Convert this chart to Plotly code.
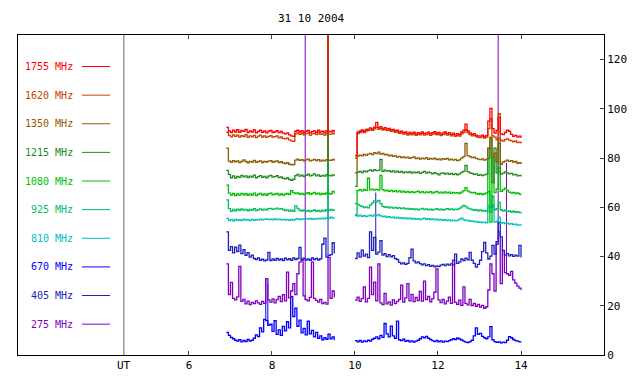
import plotly.graph_objects as go

# ---------------- data ----------------
title_text = "31 10 2004"
x_ticks = [6, 8, 10, 12, 14]
y_ticks = [0, 20, 40, 60, 80, 100, 120]
ut_label = "UT"
ut_hour = 4.43

seg_a_start, seg_b_start, step = 6.9, 10.0, 0.05

freq_labels = ["1755 MHz", "1620 MHz", "1350 MHz", "1215 MHz", "1080 MHz",
               "925 MHz", "810 MHz", "670 MHz", "405 MHz", "275 MHz"]
freq_colors = ["#ff0000", "#c84000", "#8c5c00", "#228b22", "#00c000",
               "#00c060", "#00c0c0", "#0000ff", "#2020c0", "#8000c0"]

f1755_a = [92.5, 91.0, 90.4, 91.3, 90.6, 91.5, 90.5, 91.2, 90.9, 91.6,
           90.3, 91.0, 90.6, 91.4, 90.2, 90.8, 91.3, 90.5, 91.0, 90.2,
           90.9, 91.2, 90.4, 90.7, 91.1, 90.3, 90.8, 90.1, 89.8, 90.2,
           89.4, 89.0, 88.8, 90.9, 91.3, 90.6, 91.1, 90.4, 90.9, 91.2,
           90.3, 90.8, 91.0, 90.5, 91.3, 90.6, 90.9, 90.4, 91.1, 90.8,
           90.7, 91.2, 90.5]
f1755_b = [81.0, 90.5, 91.0, 91.4, 90.9, 91.6, 91.8, 92.3, 91.9, 92.6,
           94.5, 92.3, 92.8, 92.0, 92.4, 91.8, 92.1, 91.5, 91.7, 91.1,
           91.3, 90.6, 90.9, 90.3, 90.6, 89.9, 90.4, 90.0, 90.5, 89.8,
           90.3, 90.0, 90.6, 89.9, 90.2, 90.5, 89.8, 90.3, 90.7, 90.0,
           90.4, 89.7, 90.2, 90.6, 89.9, 90.3, 89.6, 90.1, 89.4, 89.9,
           89.5, 90.6, 91.3, 93.8, 91.0, 90.2, 89.6, 89.9, 89.3, 89.0,
           88.9, 89.3, 88.7, 89.1, 95.0, 100.2, 92.0, 90.1, 91.2, 96.5,
           89.8, 89.5, 90.4, 91.3, 90.9, 89.6, 88.8, 89.2, 88.5, 88.9,
           88.2]

f1620_a = [90.5, 89.2, 88.6, 89.4, 88.8, 89.3, 88.5, 89.1, 88.7, 89.5,
           88.4, 89.0, 88.6, 89.2, 88.3, 88.9, 89.3, 88.5, 89.0, 88.4,
           88.8, 89.1, 88.5, 88.7, 89.0, 88.2, 88.6, 88.0, 87.8, 88.1,
           87.4, 87.0, 86.8, 89.8, 90.2, 89.6, 90.0, 89.4, 89.9, 90.1,
           89.3, 89.8, 90.0, 89.5, 90.2, 89.6, 89.8, 89.3, 90.0, 89.7,
           89.7, 90.1, 89.5]
f1620_b = [80.0, 89.9, 90.4, 90.8, 90.3, 91.0, 91.2, 91.6, 91.3, 91.9,
           92.5, 91.7, 92.1, 91.4, 91.8, 91.2, 91.4, 90.9, 91.0, 90.5,
           90.6, 90.0, 90.2, 89.7, 89.9, 89.3, 89.7, 89.4, 89.8, 89.2,
           89.6, 89.4, 89.9, 89.3, 89.5, 89.8, 89.2, 89.6, 90.0, 89.4,
           89.7, 89.1, 89.5, 89.9, 89.3, 89.6, 89.0, 89.4, 88.8, 89.2,
           88.9, 89.8, 90.3, 91.5, 90.2, 89.5, 89.0, 89.2, 88.7, 88.4,
           88.3, 88.6, 88.1, 88.5, 92.0, 96.0, 89.0, 88.5, 87.4, 98.0,
           87.2, 86.9, 87.5, 87.8, 87.3, 87.0, 86.6, 87.0, 86.3, 86.5,
           85.9]

f1350_a = [84.0, 78.8, 78.3, 79.0, 78.5, 78.9, 78.2, 78.7, 79.3, 78.6,
           78.1, 78.7, 78.4, 79.1, 78.3, 78.6, 78.9, 78.2, 78.7, 78.4,
           78.8, 79.0, 78.3, 78.6, 78.9, 78.2, 78.5, 78.0, 77.8, 78.1,
           77.5, 77.2, 77.4, 79.2, 79.6, 79.1, 79.4, 78.9, 79.3, 79.6,
           78.9, 79.2, 79.5, 79.0, 79.4, 78.8, 79.2, 78.9, 79.4, 79.2,
           79.1, 79.5, 78.9]
f1350_b = [74.0, 80.8, 81.2, 80.9, 81.5, 81.1, 81.6, 81.9, 81.4, 82.2,
           81.8, 82.4, 81.6, 81.9, 81.3, 81.5, 80.9, 81.2, 80.7, 80.9,
           80.4, 80.7, 80.2, 80.5, 80.1, 80.4, 79.9, 80.2, 80.5, 79.8,
           80.1, 79.6, 80.0, 79.7, 80.2, 79.5, 79.9, 79.6, 80.0, 79.4,
           79.7, 79.3, 79.8, 79.5, 79.9, 79.3, 79.6, 79.2, 79.5, 79.0,
           79.3, 80.0, 80.6, 86.0, 81.0, 80.6, 80.2, 80.4, 79.9, 79.6,
           79.4, 79.7, 79.2, 79.5, 84.0, 88.5, 80.5, 82.0, 78.5, 88.0,
           77.5, 78.4, 78.8, 79.2, 78.7, 79.0, 78.4, 78.6, 77.9, 78.1,
           77.6]

f1215_a = [75.0, 73.4, 72.0, 72.8, 71.9, 72.6, 72.2, 73.0, 72.4, 72.8,
           72.1, 72.7, 72.3, 73.1, 72.0, 72.5, 72.9, 72.2, 72.6, 72.0,
           72.7, 73.0, 72.3, 72.5, 72.9, 72.1, 72.4, 71.8, 71.6, 71.9,
           71.3, 71.0, 71.4, 72.9, 73.4, 72.7, 73.1, 72.5, 73.0, 73.5,
           72.8, 73.1, 73.6, 72.8, 73.2, 72.6, 73.0, 72.7, 73.3, 73.0,
           72.8, 73.2, 72.6]
f1215_b = [68.5, 74.2, 74.6, 74.1, 74.8, 74.4, 74.9, 75.2, 74.7, 75.3,
           74.9, 75.0, 79.5, 74.6, 75.1, 74.7, 74.9, 74.4, 74.8, 74.3,
           74.7, 74.2, 74.6, 74.0, 74.4, 74.1, 74.5, 73.9, 74.3, 74.0,
           74.4, 73.8, 74.2, 74.6, 73.9, 74.3, 74.0, 73.6, 74.1, 73.7,
           73.2, 73.8, 74.0, 73.5, 73.9, 73.4, 73.8, 73.3, 73.7, 73.2,
           73.6, 74.2, 74.6, 77.0, 74.5, 74.0, 73.8, 73.4, 73.6, 73.0,
           73.3, 72.9, 73.2, 73.5, 80.0, 88.0, 70.0, 84.0, 74.0, 86.0,
           73.5, 73.9, 74.4, 74.0, 73.6, 73.8, 73.2, 73.4, 72.8, 73.0,
           72.5]

f1080_a = [69.0, 65.8, 65.0, 65.6, 64.8, 65.4, 65.0, 65.7, 65.1, 65.5,
           64.9, 65.4, 65.0, 65.8, 64.8, 65.3, 65.6, 65.0, 65.4, 64.9,
           65.5, 65.8, 65.1, 65.3, 65.7, 65.0, 65.4, 65.0, 65.3, 65.6,
           65.2, 66.8, 66.0, 65.6, 65.9, 65.3, 65.7, 65.2, 65.6, 66.0,
           65.3, 65.6, 66.1, 65.4, 65.8, 65.2, 65.6, 65.3, 65.9, 65.6,
           65.4, 66.5, 65.6]
f1080_b = [61.5, 66.8, 67.2, 66.7, 67.3, 66.9, 71.8, 67.1, 67.4, 67.0,
           67.3, 67.0, 73.0, 67.2, 66.7, 67.0, 66.5, 66.9, 66.4, 66.8,
           66.3, 66.7, 66.2, 66.6, 66.1, 66.5, 66.0, 66.4, 66.0, 66.3,
           66.6, 66.0, 66.4, 65.9, 66.3, 66.0, 66.4, 65.8, 66.2, 66.5,
           65.9, 66.2, 65.8, 66.3, 65.9, 66.2, 65.7, 66.1, 65.8, 66.0,
           65.6, 66.2, 66.8, 68.0, 66.7, 66.2, 65.9, 66.1, 65.6, 65.3,
           65.6, 65.2, 65.5, 65.9, 84.0, 54.0, 80.0, 66.0, 67.5, 76.0,
           66.5, 67.2, 67.8, 66.9, 66.2, 65.8, 66.1, 65.6, 65.9, 65.3,
           65.4]

f925_a = [63.0, 59.5, 58.4, 59.1, 58.6, 59.3, 58.8, 59.4, 58.9, 59.2,
          58.6, 59.1, 58.8, 59.5, 58.7, 59.0, 59.4, 58.9, 59.3, 59.0,
          59.5, 59.6, 59.2, 59.4, 59.7, 59.3, 59.5, 59.1, 58.7, 58.9,
          58.5, 58.8, 58.4, 60.6, 59.6, 58.8, 58.5, 58.9, 58.4, 58.7,
          58.3, 58.6, 58.9, 58.4, 58.7, 58.3, 58.8, 58.5, 59.0, 58.8,
          59.2, 58.8, 59.1]
f925_b = [57.0, 61.2, 60.7, 60.4, 59.9, 60.2, 59.8, 61.0, 61.8, 62.6,
          62.2, 62.8, 61.5, 60.4, 60.0, 60.3, 59.8, 60.1, 59.7, 60.0,
          59.6, 59.9, 59.5, 59.8, 59.3, 59.6, 59.2, 59.5, 59.1, 59.4,
          59.0, 59.3, 59.6, 59.1, 59.4, 59.0, 59.3, 58.9, 59.2, 59.5,
          59.0, 59.3, 58.9, 59.2, 59.5, 59.1, 59.4, 59.0, 59.3, 59.1,
          59.6, 60.2, 60.8, 60.3, 59.7, 59.4, 59.1, 58.8, 59.0, 58.6,
          58.9, 58.5, 58.7, 58.4, 66.5, 60.0, 64.5, 59.0, 59.5, 62.0,
          59.0, 58.5, 58.8, 58.3, 58.5, 58.1, 58.4, 58.0, 58.2, 57.9,
          58.1]

f810_a = [55.5, 54.6, 55.0, 54.5, 55.1, 54.7, 55.0, 54.6, 55.2, 54.8,
          55.0, 54.6, 55.1, 54.7, 55.0, 54.8, 55.2, 54.9, 55.1, 55.3,
          55.0, 55.2, 54.9, 55.3, 55.0, 55.2, 54.9, 55.1, 54.8, 55.0,
          54.7, 55.1, 54.8, 55.2, 55.4, 55.0, 55.3, 55.1, 55.4, 55.2,
          55.5, 55.1, 55.4, 55.2, 55.5, 55.3, 55.6, 55.3, 55.7, 55.5,
          56.0, 55.6, 55.8]
f810_b = [56.6, 56.4, 56.8, 56.3, 56.6, 56.2, 56.5, 56.8, 56.4, 56.9,
          56.6, 57.0, 56.5, 56.2, 56.4, 55.9, 56.2, 55.8, 56.0, 55.6,
          55.9, 55.5, 55.8, 55.4, 55.7, 55.3, 55.6, 55.2, 55.5, 55.1,
          55.4, 55.0, 55.3, 55.6, 55.1, 55.4, 55.0, 55.3, 54.9, 55.2,
          54.8, 55.1, 54.7, 55.0, 54.6, 54.9, 54.5, 54.8, 54.5, 54.7,
          55.2, 55.6, 55.0, 54.6, 54.8, 54.3, 54.5, 54.1, 54.3, 53.9,
          54.1, 53.8, 54.0, 53.7, 60.5, 58.0, 61.0, 54.0, 54.3, 56.0,
          53.6, 53.8, 53.4, 53.6, 53.2, 53.4, 53.0, 53.2, 52.8, 52.9,
          52.5]

f670_a = [9.2, 8.0, 7.1, 6.6, 6.0, 5.6, 6.2, 5.3, 5.9, 5.4,
          6.3, 5.6, 6.0, 6.8, 8.2, 7.5, 11.0, 9.4, 14.5, 14.0,
          12.0, 12.5, 9.6, 14.0, 8.4, 10.2, 8.0, 11.6, 9.8, 13.5,
          11.0, 23.7, 15.6, 19.0, 11.6, 14.2, 9.0, 10.8, 8.2, 13.8,
          8.6, 10.0, 7.4, 9.2, 6.8, 7.8, 6.2, 7.0, 6.4, 8.5,
          6.6, 7.4, 6.0]
f670_b = [5.8, 5.3, 5.9, 5.2, 5.7, 5.4, 6.0, 5.6, 6.4, 6.8,
          7.4, 6.6, 8.0, 7.2, 12.8, 8.6, 7.4, 11.7, 7.8, 6.8,
          13.8, 6.2, 5.8, 6.4, 5.5, 5.9, 5.3, 5.7, 5.2, 5.6,
          6.0, 6.6, 7.4, 7.0, 7.6, 6.8, 6.3, 5.8, 5.4, 5.9,
          5.3, 5.7, 5.2, 5.6, 5.4, 5.8, 6.2, 6.6, 6.3, 6.9,
          6.5, 6.1, 5.6, 5.2, 5.0, 5.4, 6.0, 7.8, 11.0, 8.4,
          8.8, 7.6, 7.0, 6.6, 7.4, 11.5, 6.2, 5.4, 5.1, 5.3,
          4.9, 5.2, 5.0, 6.0, 7.5, 7.0, 6.3, 5.8, 5.6, 5.3,
          5.2]

f405_a = [50.0, 42.5, 44.0, 41.5, 43.8, 42.0, 44.6, 41.2, 42.8, 40.5,
          41.6, 39.8, 40.6, 39.2, 38.8, 39.4, 38.5, 38.9, 38.2, 38.6,
          41.7, 38.4, 39.0, 38.5, 39.2, 38.6, 39.0, 38.4, 39.3, 38.7,
          39.1, 38.5, 39.4, 38.8, 39.2, 43.7, 38.9, 39.3, 38.6, 39.0,
          38.5, 39.4, 38.8, 39.2, 38.6, 39.1, 45.0, 47.5, 39.8, 40.5,
          40.8, 45.6, 41.2]
f405_b = [39.2, 41.5, 39.8, 42.6, 40.2, 41.0, 39.6, 50.0, 42.5, 47.8,
          41.0, 41.8, 46.5, 40.6, 41.2, 40.0, 40.8, 39.9, 40.4, 39.2,
          38.8, 37.6, 37.0, 37.4, 36.8, 37.2, 39.5, 43.0, 38.2, 37.4,
          37.8, 37.1, 36.6, 37.0, 36.3, 36.7, 36.0, 36.4, 35.8, 36.2,
          35.9, 36.5, 36.8, 36.3, 36.9, 36.5, 37.0, 36.6, 41.0, 37.2,
          37.8, 39.0, 38.4, 39.3, 38.7, 41.7, 38.5, 37.2, 35.7, 36.8,
          38.5, 42.0, 45.7, 41.5, 39.0, 40.2, 44.5, 41.0, 46.0, 53.8,
          48.0, 42.5, 40.6, 41.2, 40.3, 40.8, 40.1, 40.6, 40.2, 44.5,
          39.6]

f275_a = [37.0, 24.5, 29.5, 23.0, 22.4, 23.6, 36.0, 21.8, 22.6, 20.8,
          21.9, 20.5, 21.4, 20.9, 22.0, 21.2, 20.6, 21.8, 21.0, 31.0,
          22.4, 21.5, 22.8, 21.2, 22.5, 23.8, 21.7, 24.5, 22.0, 33.7,
          23.2, 26.0, 29.0, 24.5, 33.0, 37.7, 38.5, 24.0, 22.5, 22.0,
          23.4, 37.7, 23.0, 22.2, 21.5, 22.6, 20.9, 21.4, 20.7, 39.7,
          23.0, 26.0, 23.4]
f275_b = [22.3, 23.5, 21.8, 22.9, 27.7, 21.6, 23.0, 35.7, 24.5, 29.6,
          22.0, 37.0, 21.2, 20.5, 25.0, 20.8, 21.6, 20.3, 22.4, 20.9,
          21.8, 22.6, 28.4, 21.5, 23.2, 29.0, 22.0, 24.6, 21.7, 23.4,
          22.1, 25.8, 21.9, 30.0, 22.5, 23.8, 21.6, 22.9, 25.5, 35.0,
          22.4, 21.3, 22.6, 20.8, 21.9, 23.5, 21.0, 38.5, 21.4, 20.6,
          22.3, 20.2, 27.7, 21.0, 20.4, 22.6, 20.1, 21.0, 19.8, 20.6,
          19.5, 20.2, 19.0, 19.6, 26.4, 37.0, 33.0, 26.0, 45.0, 50.0,
          29.0, 42.4, 33.5, 33.0, 32.4, 34.0, 30.5, 29.2, 28.0, 27.2,
          26.4]

# isolated single-sample spikes (time in UT hours, peak value; >130 is off scale)
spikes = {
    "1755 MHz": [(9.35, 150)],
    "1620 MHz": [(9.35, 150)],
    "1350 MHz": [(9.35, 150)],
    "1215 MHz": [(9.35, 150)],
    "1080 MHz": [(9.35, 150)],
    "925 MHz": [(9.35, 150)],
    "810 MHz": [(9.35, 150)],
    "670 MHz": [(7.85, 31.0), (7.90, 29.0)],
    "405 MHz": [(9.35, 150), (10.50, 66.0)],
    "275 MHz": [(8.80, 150), (13.45, 150), (13.65, 78.0)],
}

series = {
    "1755 MHz": (f1755_a, f1755_b),
    "1620 MHz": (f1620_a, f1620_b),
    "1350 MHz": (f1350_a, f1350_b),
    "1215 MHz": (f1215_a, f1215_b),
    "1080 MHz": (f1080_a, f1080_b),
    "925 MHz": (f925_a, f925_b),
    "810 MHz": (f810_a, f810_b),
    "670 MHz": (f670_a, f670_b),
    "405 MHz": (f405_a, f405_b),
    "275 MHz": (f275_a, f275_b),
}
# draw order: lowest trace first so higher traces sit on top
draw_order = ["670 MHz", "275 MHz", "405 MHz", "810 MHz", "925 MHz",
              "1080 MHz", "1215 MHz", "1350 MHz", "1620 MHz", "1755 MHz"]

# ---------------- figure ----------------
FONT = "DejaVu Sans Mono"
color_of = dict(zip(freq_labels, freq_colors))


def value_at(t, xa, a, xb, b):
    xs, ys = (xa, a) if t < seg_b_start - 0.2 else (xb, b)
    k = min(range(len(xs)), key=lambda j: abs(xs[j] - t))
    return xs[k], ys[k]


fig = go.Figure()
for name in draw_order:
    a, b = series[name]
    xa = [seg_a_start + step * i for i in range(len(a))]
    xb = [seg_b_start + step * i for i in range(len(b))]
    col = color_of[name]
    fig.add_trace(go.Scatter(
        x=xa + [None] + xb, y=a + [None] + b, mode="lines",
        line=dict(color=col, width=1.3, shape="hv"), connectgaps=False,
        showlegend=False, hoverinfo="skip"))
    sx, sy = [], []
    for t, peak in spikes.get(name, []):
        x0, base = value_at(t, xa, a, xb, b)
        sx += [x0, x0, None]
        sy += [base, peak, None]
    if sx:
        fig.add_trace(go.Scatter(x=sx, y=sy, mode="lines",
                                 line=dict(color=col, width=1),
                                 showlegend=False, hoverinfo="skip"))

# legend-like labels on the left
leg_top, leg_gap = 117.2, 11.63
for k, (lab, col) in enumerate(zip(freq_labels, freq_colors)):
    yv = leg_top - leg_gap * k
    fig.add_annotation(x=3.26, y=yv, xref="x", yref="y", text=lab,
                       showarrow=False, xanchor="right", yanchor="middle",
                       font=dict(family=FONT, size=10, color=col))
    fig.add_shape(type="line", xref="x", yref="y", x0=3.42, x1=4.10,
                  y0=yv, y1=yv, line=dict(color=col, width=1))

# UT separator line and label
fig.add_shape(type="line", xref="x", yref="y", x0=ut_hour, x1=ut_hour,
              y0=0, y1=130, line=dict(color="#666666", width=1))
fig.add_annotation(x=ut_hour, y=-0.034, xref="x", yref="paper", text=ut_label,
                   showarrow=False, xanchor="center", yanchor="middle",
                   font=dict(family=FONT, size=11, color="black"))
fig.add_annotation(x=0.5, y=1.0525, xref="paper", yref="paper", text=title_text,
                   showarrow=False, xanchor="center", yanchor="middle",
                   font=dict(family=FONT, size=11, color="black"))

fig.update_layout(
    width=640, height=384,
    margin=dict(l=18, r=36, t=35, b=25),
    paper_bgcolor="white", plot_bgcolor="white",
    font=dict(family=FONT, size=11, color="black"),
    xaxis=dict(range=[1.88, 16], tickvals=x_ticks, ticks="inside", ticklen=4,
               showgrid=False, zeroline=False, showline=True, linecolor="black",
               linewidth=1, mirror="ticks", tickfont=dict(family=FONT, size=11)),
    yaxis=dict(range=[0, 130], tickvals=y_ticks, side="right", ticks="inside",
               ticklen=4, showgrid=False, zeroline=False, showline=True,
               linecolor="black", linewidth=1, mirror=True,
               tickfont=dict(family=FONT, size=11)),
)

fig.write_html("out.html", config={"displayModeBar": False},
               post_script="document.body.style.margin='0';document.body.style.overflow='hidden';")
